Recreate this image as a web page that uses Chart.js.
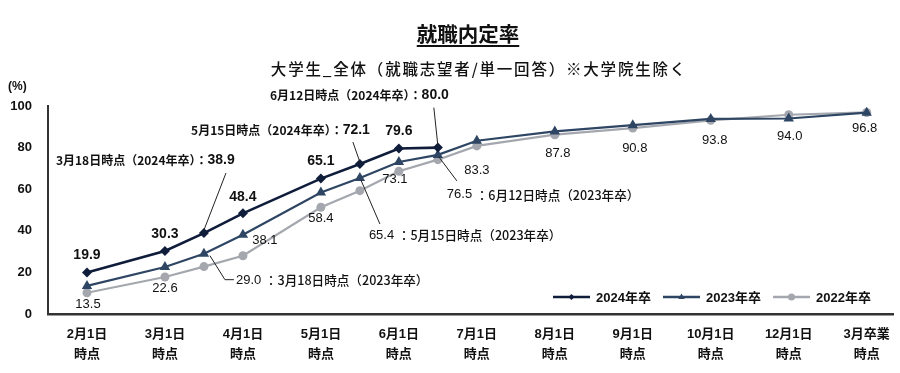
<!DOCTYPE html>
<html><head><meta charset="utf-8">
<script src="https://cdn.jsdelivr.net/npm/chart.js@4.4.1/dist/chart.umd.min.js"></script>
<style>
html,body{margin:0;padding:0;background:#fff;}
#wrap{position:relative;width:900px;height:373px;overflow:hidden;font-family:"Noto Sans CJK JP","Liberation Sans",sans-serif;}
#title{position:absolute;left:0;width:936px;top:19px;text-align:center;font-size:20.5px;font-weight:700;color:#111;line-height:28px;}
#title span{text-decoration:underline;text-underline-offset:3px;text-decoration-thickness:2px;}
#sub{position:absolute;left:0;width:958px;top:56px;text-align:center;font-size:15.5px;font-weight:500;color:#111;letter-spacing:1.8px;line-height:24px;}
#unit{position:absolute;left:8px;top:79px;font-size:12px;font-weight:700;color:#111;font-family:"Liberation Sans","Noto Sans CJK JP",sans-serif;}
canvas{position:absolute;left:0;top:0;}
</style></head>
<body><div id="wrap">
<canvas id="c" width="900" height="373"></canvas>
<div id="title"><span>就職内定率</span></div>
<div id="sub">大学生_全体（就職志望者/単一回答）※大学院生除く</div>
<div id="unit">(%)</div>
</div>
<script>
// ---- data ----
const tickLabels = [["2月1日","時点"],["3月1日","時点"],["4月1日","時点"],["5月1日","時点"],["6月1日","時点"],["7月1日","時点"],["8月1日","時点"],["9月1日","時点"],["10月1日","時点"],["12月1日","時点"],["3月卒業","時点"]];
// survey positions on the month axis (3/18, 5/15, 6/12 are between month ticks)
const surveyPos = [0, 1, 1.5, 2, 3, 3.5, 4, 4.5, 5, 6, 7, 8, 9, 10];
const series2024 = [19.9, 30.3, 38.9, 48.4, 65.1, 72.1, 79.6, 80.0];
const series2023 = [13.5, 22.6, 29.0, 38.1, 58.4, 65.4, 73.1, 76.5, 83.3, 87.8, 90.8, 93.8, 94.0, 96.8];
const series2022 = [10.2, 17.8, 22.8, 28.0, 51.3, 59.3, 68.6, 74.2, 80.8, 86.2, 89.4, 93.1, 95.8, 96.9];
const seriesNames = ["2024年卒", "2023年卒", "2022年卒"];
const yTicks = [0, 20, 40, 60, 80, 100];
const callouts2024 = {2: "3月18日時点（2024年卒）：", 5: "5月15日時点（2024年卒）：", 7: "6月12日時点（2024年卒）："};
const callouts2023 = {2: "：3月18日時点（2023年卒）", 5: "：5月15日時点（2023年卒）", 7: "：6月12日時点（2023年卒）"};

// ---- layout / style (not data) ----
const C24 = "#0f1d3b", C23 = "#2e4663", C22 = "#a4a8ae";
const LAT = "'Liberation Sans','Noto Sans CJK JP',sans-serif";
const lbl2024Off = {0:[0,-17],1:[0,-17],3:[0,-16],4:[0,-17],6:[0,-17]};
const lbl2023Off = {0:[1,19],1:[0,21],3:[22,6],4:[0,26],6:[-4,17],8:[0,30],9:[3,22],10:[2,23],11:[4,22],12:[1,18],13:[-2,16]};
// callout geometry: text anchor (dx,dy), align, leader polyline relative to point
const co24 = {2:{tx:-148,ty:-73,align:'left',line:[[0,-3],[22,-60]]},
              5:{tx:10,ty:-34,align:'right',line:[[0,-2],[-7,-22]]},
              7:{tx:11,ty:-52,align:'right',line:[[0,-2],[-4,-40]]}};
const co23 = {2:{tx:32,ty:27,line:[[6,2],[21,26],[30,26]]},
              5:{tx:9,ty:57,line:[[1,2],[20,46]]},
              7:{tx:9,ty:40,line:[[1,2],[19,26]]}};

const toXY = (vals) => vals.map((v, i) => ({x: surveyPos[i], y: v}));

const labelPlugin = {
  id: 'labels',
  afterDatasetsDraw(chart) {
    const ctx = chart.ctx;
    const m24 = chart.getDatasetMeta(0).data, m23 = chart.getDatasetMeta(1).data;
    ctx.save();
    ctx.textBaseline = 'middle';
    ctx.fillStyle = '#111';
    ctx.font = "bold 14px " + LAT; ctx.textAlign = 'center';
    Object.keys(lbl2024Off).forEach(k => {
      const p = m24[k], o = lbl2024Off[k];
      ctx.fillText(series2024[k].toFixed(1), p.x + o[0], p.y + o[1]);
    });
    ctx.font = "13px " + LAT;
    Object.keys(lbl2023Off).forEach(k => {
      const p = m23[k], o = lbl2023Off[k];
      ctx.fillText(series2023[k].toFixed(1), p.x + o[0], p.y + o[1]);
    });
    ctx.strokeStyle = '#222'; ctx.lineWidth = 1;
    Object.keys(co24).forEach(k => {
      const p = m24[k], g = co24[k];
      ctx.beginPath();
      g.line.forEach((q, i) => i ? ctx.lineTo(p.x + q[0], p.y + q[1]) : ctx.moveTo(p.x + q[0], p.y + q[1]));
      ctx.stroke();
      const pre = callouts2024[k], num = series2024[k].toFixed(1);
      ctx.font = "bold 12px 'Noto Sans CJK JP',sans-serif";
      const w1 = ctx.measureText(pre).width;
      ctx.font = "bold 14px " + LAT;
      const w2 = ctx.measureText(num).width;
      let x0 = g.align === 'left' ? p.x + g.tx : p.x + g.tx - w1 - w2;
      const y0 = p.y + g.ty;
      ctx.textAlign = 'left';
      ctx.font = "bold 12px 'Noto Sans CJK JP',sans-serif";
      ctx.fillText(pre, x0, y0);
      ctx.font = "bold 14px " + LAT;
      ctx.fillText(num, x0 + w1, y0);
    });
    Object.keys(co23).forEach(k => {
      const p = m23[k], g = co23[k];
      ctx.beginPath();
      g.line.forEach((q, i) => i ? ctx.lineTo(p.x + q[0], p.y + q[1]) : ctx.moveTo(p.x + q[0], p.y + q[1]));
      ctx.stroke();
      const num = series2023[k].toFixed(1) + " ", suf = callouts2023[k];
      let x0 = p.x + g.tx; const y0 = p.y + g.ty;
      ctx.textAlign = 'left';
      ctx.font = "13px " + LAT;
      ctx.fillText(num, x0, y0);
      const w1 = ctx.measureText(num).width;
      ctx.font = "500 12.6px 'Noto Sans CJK JP',sans-serif";
      ctx.fillText(suf, x0 + w1, y0);
    });
    ctx.restore();
  },
  afterDraw(chart) {
    const ctx = chart.ctx;
    const items = chart.data.datasets;
    const xs = [553, 663, 773];
    const y = 297;
    ctx.save();
    items.forEach((ds, i) => {
      ctx.strokeStyle = ds.borderColor; ctx.lineWidth = 2.5;
      ctx.beginPath(); ctx.moveTo(xs[i], y); ctx.lineTo(xs[i] + 37, y); ctx.stroke();
      ctx.fillStyle = ds.backgroundColor;
      const cx = xs[i] + 18.5;
      ctx.beginPath();
      if (ds.pointStyle === 'rectRot') { ctx.moveTo(cx, y - 3); ctx.lineTo(cx + 3, y); ctx.lineTo(cx, y + 3); ctx.lineTo(cx - 3, y); }
      else if (ds.pointStyle === 'triangle') { ctx.moveTo(cx, y - 3.5); ctx.lineTo(cx + 3.2, y + 2); ctx.lineTo(cx - 3.2, y + 2); }
      else { ctx.arc(cx, y, 3.5, 0, Math.PI * 2); }
      ctx.closePath(); ctx.fill();
      ctx.fillStyle = '#111';
      ctx.textAlign = 'left'; ctx.textBaseline = 'middle';
      ctx.font = "bold 13px 'Liberation Sans','Noto Sans CJK JP',sans-serif";
      ctx.fillText(seriesNames[i], xs[i] + 43, y + 1);
    });
    ctx.restore();
  }
};

new Chart(document.getElementById('c'), {
  type: 'line',
  data: {
    datasets: [
      {label: seriesNames[0], data: toXY(series2024), borderColor: C24, backgroundColor: C24, borderWidth: 2.6, pointStyle: 'rectRot', pointRadius: 5, pointBorderWidth: 0, tension: 0, order: 1},
      {label: seriesNames[1], data: toXY(series2023), borderColor: C23, backgroundColor: C23, borderWidth: 2.2, pointStyle: 'triangle', pointRadius: 6, pointBorderWidth: 0, tension: 0, order: 2},
      {label: seriesNames[2], data: toXY(series2022), borderColor: C22, backgroundColor: C22, borderWidth: 2.2, pointStyle: 'circle', pointRadius: 4.5, pointBorderWidth: 0, tension: 0, order: 3}
    ]
  },
  options: {
    responsive: false, animation: false,
    layout: {padding: {top: 106, right: 0, left: 0, bottom: 0}},
    plugins: {legend: {display: false}, tooltip: {enabled: false}},
    scales: {
      x: {
        type: 'linear', min: -0.5, max: 10.35,
        grid: {display: false, drawTicks: false},
        border: {display: true, color: '#333', width: 2.5},
        afterBuildTicks: (s) => { s.ticks = tickLabels.map((_, i) => ({value: i})); },
        afterFit: (s) => { s.height = 59; },
        ticks: {
          autoSkip: false, maxRotation: 0, padding: 10, color: '#111',
          font: {family: "'Liberation Sans','Noto Sans CJK JP',sans-serif", size: 13, weight: 'bold', lineHeight: 1.55},
          callback: (v) => tickLabels[v]
        }
      },
      y: {
        min: 0, max: 100,
        grid: {display: false, drawTicks: false},
        border: {display: true, color: '#333', width: 2},
        afterBuildTicks: (s) => { s.ticks = yTicks.map(v => ({value: v})); },
        afterFit: (s) => { s.width = 48; },
        ticks: {padding: 16, color: '#111', font: {family: "'Liberation Sans',sans-serif", size: 13, weight: 'bold'}}
      }
    }
  },
  plugins: [labelPlugin]
});
</script>
</body></html>
